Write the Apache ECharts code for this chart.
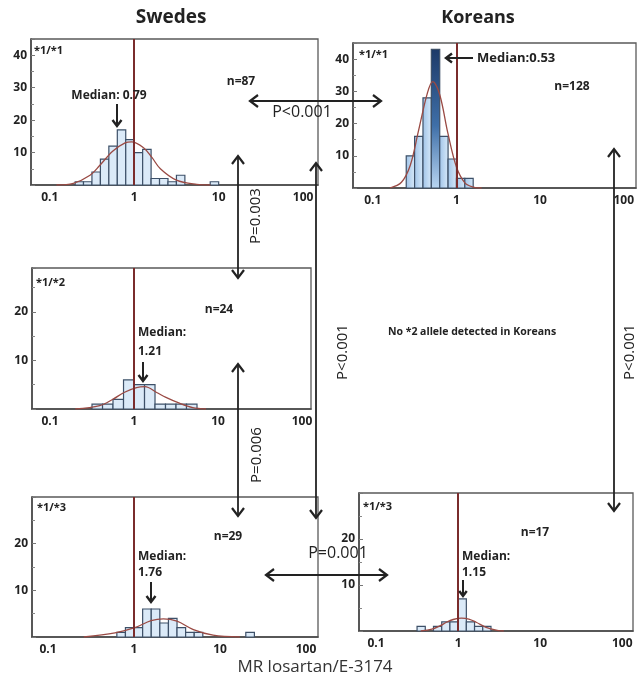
<!DOCTYPE html>
<html>
<head>
<meta charset="utf-8">
<script src="https://cdn.jsdelivr.net/npm/echarts@6/dist/echarts.min.js"></script>
<style>html,body{margin:0;padding:0;background:#fff;}#c{width:639px;height:679px;}</style>
</head>
<body>
<div id="c"></div>
<script>
// ---------- DATA ----------
// Swedes *1/*1  (n=87)
const swe11Edges  = [0.2, 0.251, 0.316, 0.398, 0.501, 0.631, 0.794, 1.0, 1.259, 1.585, 1.995, 2.512, 3.162, 3.981, 5.012, 6.31, 7.943, 10.0];
const swe11Counts = [1, 1, 4, 8, 12, 17, 14, 10, 11, 2, 2, 1, 3, 0, 0, 0, 1];
const swe11CurveX = [0.12, 0.19, 0.3, 0.39, 0.56, 0.78, 0.93, 1.29, 1.62, 2.04, 3.16, 5.5, 8];
const swe11CurveY = [0, 0.5, 3, 6, 10.5, 13, 13.3, 11.5, 8.5, 5, 1.5, 0.2, 0];

// Koreans *1/*1 (n=128)
const kor11Edges  = [0.251, 0.316, 0.398, 0.501, 0.631, 0.794, 1.0, 1.259, 1.585];
const kor11Counts = [10, 16, 28, 43, 16, 9, 3, 3];
const kor11CurveX = [0.16, 0.22, 0.28, 0.35, 0.45, 0.52, 0.63, 0.79, 1.0, 1.26, 1.58, 2.0];
const kor11CurveY = [0, 1.8, 7, 17.5, 29.5, 33, 29, 17, 6.5, 1.6, 0.3, 0];

// Swedes *1/*2 (n=24)
const swe12Edges  = [0.316, 0.422, 0.562, 0.75, 1.0, 1.334, 1.778, 2.371, 3.162, 4.217, 5.623];
const swe12Counts = [1, 1, 2, 6, 5, 5, 1, 1, 1, 1];
const swe12CurveX = [0.2, 0.39, 0.56, 0.76, 1.07, 1.35, 1.86, 2.4, 3.47, 5.0, 7.2];
const swe12CurveY = [0, 0.7, 2, 3.4, 4.4, 4.6, 3.4, 2.4, 1.2, 0.3, 0];

// Swedes *1/*3 (n=29)
const swe13Edges  = [0.631, 0.794, 1.0, 1.259, 1.585, 1.995, 2.512, 3.162, 3.981, 5.012, 6.31, 7.943, 10.0, 12.59, 15.85, 19.95, 25.12];
const swe13Counts = [1, 2, 2, 6, 6, 3, 4, 2, 1, 1, 0, 0, 0, 0, 0, 1];
const swe13CurveX = [0.26, 0.6, 1.02, 1.58, 2.19, 3.16, 4.9, 8.3, 17];
const swe13CurveY = [0, 0.9, 2, 3.5, 3.9, 3.4, 1.6, 0.4, 0];

// Koreans *1/*3 (n=17)
const kor13Edges  = [0.316, 0.398, 0.501, 0.631, 0.794, 1.0, 1.259, 1.585, 1.995, 2.512];
const kor13Counts = [1, 0, 1, 2, 2, 7, 2, 1, 1];
const kor13CurveX = [0.35, 0.48, 0.6, 0.72, 0.87, 1.1, 1.35, 1.66, 2.19, 3.0, 3.6];
const kor13CurveY = [0, 0.4, 1.1, 1.9, 2.5, 2.8, 2.6, 1.9, 0.8, 0.15, 0];

const xTickLabels = ['0.1', '1', '10', '100'];

// ---------- CHART ----------
const FONT = '"Open Sans","Liberation Sans",sans-serif';
const panels = [
  {grid:{left:31, top:39, width:287, height:146}, xMin:0.06, xMax:150, yMax:45, edges:swe11Edges, counts:swe11Counts, cx:swe11CurveX, cy:swe11CurveY},
  {grid:{left:353, top:43, width:290, height:145}, xMin:0.058, xMax:140, yMax:45, edges:kor11Edges, counts:kor11Counts, cx:kor11CurveX, cy:kor11CurveY, dark:true},
  {grid:{left:32, top:268, width:279, height:141}, xMin:0.061, xMax:128, yMax:29, edges:swe12Edges, counts:swe12Counts, cx:swe12CurveX, cy:swe12CurveY},
  {grid:{left:32, top:497, width:286, height:140}, xMin:0.065, xMax:138, yMax:30, edges:swe13Edges, counts:swe13Counts, cx:swe13CurveX, cy:swe13CurveY},
  {grid:{left:359, top:493, width:274, height:138}, xMin:0.062, xMax:135, yMax:30, edges:kor13Edges, counts:kor13Counts, cx:kor13CurveX, cy:kor13CurveY}
];

function isDecade(v){ const l = Math.log10(v); return Math.abs(l - Math.round(l)) < 1e-6; }

const grids = [], xAxes = [], yAxes = [], series = [];
panels.forEach((p, i) => {
  grids.push(Object.assign({show:true, borderColor:'#5a5a5a', borderWidth:1.3, containLabel:false}, p.grid));
  xAxes.push({
    type:'log', logBase:10, gridIndex:i, min:p.xMin, max:p.xMax,
    axisLine:{show:true, onZero:false, lineStyle:{color:'#4a4a4a', width:1.6}},
    axisTick:{show:false}, splitLine:{show:false},
    axisLabel:{margin:7, fontSize:12, fontWeight:'bold', color:'#222', fontFamily:FONT,
      formatter: v => {
        if (!isDecade(v)) return '';
        const k = Math.round(Math.log10(v)) + 1;
        return xTickLabels[k] || '';
      }}
  });
  yAxes.push({
    type:'value', gridIndex:i, min:0, max:p.yMax, interval:10,
    axisLine:{show:true, lineStyle:{color:'#4a4a4a', width:1.6}},
    axisTick:{show:true, inside:true, length:4, lineStyle:{color:'#777'}},
    minorTick:{show:true, splitNumber:2, length:3, lineStyle:{color:'#888'}},
    splitLine:{show:false},
    axisLabel:{margin:4, fontSize:12, fontWeight:'bold', color:'#222', fontFamily:FONT,
      formatter: v => (v > 0 && v < p.yMax && v % 10 === 0) ? String(v) : ''}
  });
  const maxCount = Math.max.apply(null, p.counts);
  const barData = [];
  p.counts.forEach((c, j) => { if (c > 0) barData.push([p.edges[j], p.edges[j+1], c]); });
  series.push({
    type:'custom', xAxisIndex:i, yAxisIndex:i, data:barData, encode:{x:[0,1], y:2}, z:2,
    renderItem:(params, api) => {
      const a = api.coord([api.value(0), api.value(2)]);
      const b = api.coord([api.value(1), 0]);
      let fill = '#dbeaf8';
      if (p.dark) {
        fill = api.value(2) === maxCount
          ? new echarts.graphic.LinearGradient(0,0,0,1,[{offset:0,color:'#1d3a68'},{offset:0.55,color:'#3f6fa8'},{offset:1,color:'#b9d6f2'}])
          : new echarts.graphic.LinearGradient(0,0,1,0,[{offset:0,color:'#9fc3e8'},{offset:1,color:'#d9eaf9'}]);
      }
      return {type:'rect', shape:{x:a[0], y:a[1], width:b[0]-a[0], height:b[1]-a[1]},
        style:{fill:fill, stroke:'#3d5068', lineWidth:1.2}};
    }
  });
  series.push({
    type:'line', xAxisIndex:i, yAxisIndex:i, smooth:0.35, symbol:'none', z:3,
    data:p.cx.map((x, j) => [x, p.cy[j]]),
    lineStyle:{color:'#9a4a44', width:1.3},
    markLine:{silent:true, symbol:'none', label:{show:false},
      lineStyle:{color:'#7a2c2c', width:2, type:'solid'}, data:[{xAxis:1}]}
  });
});

// ---------- annotations ----------
const G = [];
function txt(s, x, y, o){
  o = o || {};
  G.push({type:'text', x:x, y:y, rotation:o.rot || 0, z:10,
    style:{text:s, font:(o.weight||'bold')+' '+(o.size||13)+'px '+FONT, fill:o.color||'#222',
      align:o.align||'left', verticalAlign:'middle'}});
}
function arrow(x1, y1, x2, y2, heads, w, size){
  w = w || 1.8; size = size || 7;
  G.push({type:'line', z:10, shape:{x1:x1,y1:y1,x2:x2,y2:y2}, style:{stroke:'#222', lineWidth:w}});
  const head = (ex, ey, dx, dy) => {
    const L = Math.hypot(dx, dy); dx /= L; dy /= L;
    const nx = -dy, ny = dx;
    G.push({type:'polyline', z:10, shape:{points:[
      [ex - dx*size + nx*size*0.75, ey - dy*size + ny*size*0.75], [ex, ey],
      [ex - dx*size - nx*size*0.75, ey - dy*size - ny*size*0.75]]},
      style:{stroke:'#222', lineWidth:w+0.4, fill:null}});
  };
  if (heads === 'end' || heads === 'both') head(x2, y2, x2-x1, y2-y1);
  if (heads === 'start' || heads === 'both') head(x1, y1, x1-x2, y1-y2);
}

txt('Swedes', 171, 18, {size:19, align:'center'});
txt('Koreans', 478, 18, {size:18, align:'center'});
txt('MR losartan/E-3174', 315, 667, {size:17, weight:'normal', align:'center', color:'#333'});

// panel A
txt('*1/*1', 34, 51, {size:11});
txt('n=87', 241, 82, {size:12, align:'center'});
txt('Median: 0.79', 109, 96, {size:12, align:'center'});
arrow(117, 104, 117, 126, 'end', 2, 6);
// panel B
txt('*1/*1', 359, 55, {size:11});
txt('Median:0.53', 477, 58, {size:13});
arrow(473, 58, 446, 58, 'end', 2, 6);
txt('n=128', 572, 87, {size:12, align:'center'});
// panel C
txt('*1/*2', 36, 283, {size:11});
txt('n=24', 219, 310, {size:12, align:'center'});
txt('Median:', 138, 333, {size:12});
txt('1.21', 138, 352, {size:12});
arrow(143, 362, 143, 381, 'end', 2, 6);
txt('No *2 allele detected in Koreans', 472, 332, {size:10.5, align:'center'});
// panel D
txt('*1/*3', 37, 508, {size:11});
txt('n=29', 228, 537, {size:12, align:'center'});
txt('Median:', 138, 557, {size:12});
txt('1.76', 138, 573, {size:12});
arrow(151, 582, 151, 602, 'end', 2, 6);
// panel E
txt('*1/*3', 363, 507, {size:11});
txt('n=17', 535, 533, {size:12, align:'center'});
txt('Median:', 462, 557, {size:12});
txt('1.15', 462, 573, {size:12});
arrow(463, 580, 463, 596, 'end', 2, 5);

// comparison arrows
arrow(250, 101, 381, 101, 'both', 1.8, 8);
txt('P<0.001', 302, 112, {size:16, weight:'normal', align:'center'});
arrow(238, 156, 238, 278, 'both', 1.8, 8);
txt('P=0.003', 256, 216, {size:15, weight:'normal', align:'center', rot:Math.PI/2});
arrow(238, 364, 238, 516, 'both', 1.8, 8);
txt('P=0.006', 257, 455, {size:15, weight:'normal', align:'center', rot:Math.PI/2});
arrow(316, 163, 316, 518, 'both', 1.8, 8);
txt('P<0.001', 343, 352, {size:15, weight:'normal', align:'center', rot:Math.PI/2});
arrow(614, 149, 614, 511, 'both', 1.8, 8);
txt('P<0.001', 630, 352, {size:15, weight:'normal', align:'center', rot:Math.PI/2});
arrow(266, 575, 387, 575, 'both', 1.8, 8);
txt('P=0.001', 338, 553, {size:16, weight:'normal', align:'center'});

const chart = echarts.init(document.getElementById('c'), null, {renderer:'canvas'});
chart.setOption({
  animation:false, backgroundColor:'#fff',
  grid:grids, xAxis:xAxes, yAxis:yAxes, series:series, graphic:G
});
</script>
</body>
</html>
